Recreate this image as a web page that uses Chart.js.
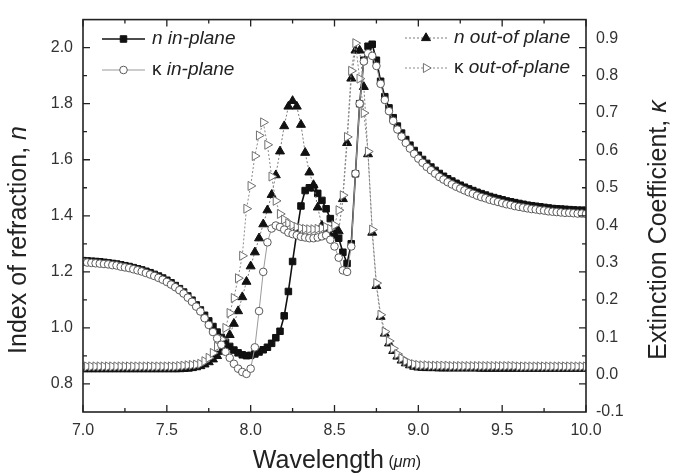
<!DOCTYPE html>
<html>
<head>
<meta charset="utf-8">
<script src="https://cdn.jsdelivr.net/npm/chart.js@4.4.0/dist/chart.umd.min.js"></script>
<style>
html, body { margin: 0; padding: 0; background: #fff; }
</style>
</head>
<body>
<canvas id="chart" width="673" height="476"></canvas>
<script>
var FONT = "'Liberation Sans', Arial, Helvetica, sans-serif";

// wavelength grid, um
var WAVELENGTH = [
    7.000, 7.025, 7.050, 7.075, 7.100, 7.125, 7.150, 7.175, 7.200, 7.225,
    7.250, 7.275, 7.300, 7.325, 7.350, 7.375, 7.400, 7.425, 7.450, 7.475,
    7.500, 7.525, 7.550, 7.575, 7.600, 7.625, 7.650, 7.675, 7.700, 7.725,
    7.750, 7.775, 7.800, 7.825, 7.850, 7.875, 7.900, 7.925, 7.950, 7.975,
    8.000, 8.025, 8.050, 8.075, 8.100, 8.125, 8.150, 8.175, 8.200, 8.225,
    8.250, 8.275, 8.300, 8.325, 8.350, 8.375, 8.400, 8.425, 8.450, 8.475,
    8.500, 8.525, 8.550, 8.575, 8.600, 8.625, 8.650, 8.675, 8.700, 8.725,
    8.750, 8.775, 8.800, 8.825, 8.850, 8.875, 8.900, 8.925, 8.950, 8.975,
    9.000, 9.025, 9.050, 9.075, 9.100, 9.125, 9.150, 9.175, 9.200, 9.225,
    9.250, 9.275, 9.300, 9.325, 9.350, 9.375, 9.400, 9.425, 9.450, 9.475,
    9.500, 9.525, 9.550, 9.575, 9.600, 9.625, 9.650, 9.675, 9.700, 9.725,
    9.750, 9.775, 9.800, 9.825, 9.850, 9.875, 9.900, 9.925, 9.950, 9.975,
    10.000
];

// n in-plane (left axis)
var N_IN_PLANE = [
    1.240, 1.239, 1.238, 1.237, 1.236, 1.234, 1.232, 1.230, 1.228, 1.225,
    1.222, 1.219, 1.215, 1.211, 1.207, 1.202, 1.197, 1.191, 1.185, 1.178,
    1.170, 1.161, 1.151, 1.140, 1.128, 1.114, 1.099, 1.082, 1.064, 1.045,
    1.025, 1.005, 0.985, 0.966, 0.949, 0.934, 0.921, 0.911, 0.904, 0.901,
    0.902, 0.907, 0.914, 0.922, 0.931, 0.945, 0.965, 0.988, 1.043, 1.130,
    1.237, 1.340, 1.435, 1.490, 1.500, 1.500, 1.480, 1.455, 1.425, 1.390,
    1.355, 1.320, 1.270, 1.230, 1.300, 1.550, 1.800, 1.955, 2.005, 2.012,
    1.955, 1.880, 1.825, 1.785, 1.750, 1.720, 1.695, 1.672, 1.652, 1.633,
    1.616, 1.601, 1.587, 1.574, 1.562, 1.551, 1.541, 1.532, 1.524, 1.516,
    1.509, 1.502, 1.496, 1.490, 1.484, 1.479, 1.474, 1.469, 1.465, 1.461,
    1.457, 1.453, 1.450, 1.447, 1.444, 1.441, 1.438, 1.436, 1.434, 1.432,
    1.430, 1.428, 1.426, 1.425, 1.424, 1.423, 1.422, 1.421, 1.420, 1.420,
    1.419
];

// kappa in-plane (right axis)
var K_IN_PLANE = [
    0.301, 0.300, 0.299, 0.298, 0.297, 0.296, 0.295, 0.293, 0.292, 0.289,
    0.287, 0.285, 0.282, 0.279, 0.276, 0.272, 0.268, 0.264, 0.259, 0.254,
    0.248, 0.241, 0.234, 0.226, 0.217, 0.206, 0.195, 0.182, 0.169, 0.151,
    0.133, 0.114, 0.097, 0.080, 0.061, 0.045, 0.029, 0.016, 0.007, 0.002,
    0.016, 0.073, 0.170, 0.275, 0.354, 0.391, 0.399, 0.395, 0.388, 0.380,
    0.376, 0.373, 0.369, 0.367, 0.365, 0.365, 0.367, 0.370, 0.373, 0.361,
    0.343, 0.313, 0.279, 0.275, 0.343, 0.538, 0.725, 0.838, 0.860, 0.853,
    0.826, 0.778, 0.735, 0.705, 0.679, 0.656, 0.637, 0.620, 0.605, 0.591,
    0.578, 0.567, 0.556, 0.547, 0.538, 0.529, 0.522, 0.515, 0.509, 0.503,
    0.498, 0.493, 0.488, 0.484, 0.479, 0.475, 0.472, 0.468, 0.465, 0.462,
    0.459, 0.456, 0.454, 0.451, 0.449, 0.447, 0.445, 0.443, 0.442, 0.440,
    0.439, 0.437, 0.436, 0.435, 0.434, 0.433, 0.433, 0.432, 0.431, 0.431,
    0.430
];

// n out-of-plane (left axis)
var N_OUT_PLANE = [
    0.853, 0.853, 0.853, 0.853, 0.853, 0.853, 0.853, 0.853, 0.853, 0.853,
    0.853, 0.853, 0.853, 0.853, 0.853, 0.853, 0.853, 0.853, 0.853, 0.853,
    0.853, 0.853, 0.853, 0.853, 0.854, 0.855, 0.857, 0.860, 0.864, 0.870,
    0.878, 0.888, 0.900, 0.915, 0.940, 0.975, 1.015, 1.060, 1.110, 1.165,
    1.220, 1.270, 1.320, 1.370, 1.420, 1.475, 1.545, 1.630, 1.720, 1.790,
    1.810, 1.790, 1.725, 1.625, 1.555, 1.510, 1.430, 1.365, 1.340, 1.330,
    1.330, 1.345, 1.460, 1.660, 1.890, 1.990, 1.990, 1.860, 1.620, 1.340,
    1.150, 1.040, 0.980, 0.945, 0.918, 0.898, 0.884, 0.874, 0.867, 0.862,
    0.859, 0.858, 0.857, 0.857, 0.857, 0.856, 0.856, 0.856, 0.856, 0.856,
    0.856, 0.856, 0.856, 0.856, 0.856, 0.855, 0.855, 0.855, 0.855, 0.855,
    0.855, 0.855, 0.855, 0.855, 0.855, 0.855, 0.855, 0.855, 0.855, 0.855,
    0.855, 0.855, 0.855, 0.855, 0.855, 0.855, 0.855, 0.855, 0.855, 0.855,
    0.855
];

// kappa out-of-plane (right axis)
var K_OUT_PLANE = [
    0.022, 0.022, 0.022, 0.022, 0.022, 0.022, 0.022, 0.022, 0.022, 0.022,
    0.022, 0.022, 0.022, 0.022, 0.022, 0.022, 0.022, 0.022, 0.022, 0.022,
    0.022, 0.022, 0.022, 0.023, 0.024, 0.025, 0.026, 0.027, 0.029, 0.036,
    0.045, 0.058, 0.075, 0.095, 0.125, 0.165, 0.205, 0.258, 0.318, 0.444,
    0.505, 0.585, 0.640, 0.675, 0.615, 0.530, 0.465, 0.430, 0.415, 0.405,
    0.400, 0.395, 0.392, 0.390, 0.389, 0.389, 0.390, 0.392, 0.395, 0.390,
    0.400, 0.440, 0.480, 0.636, 0.813, 0.887, 0.792, 0.700, 0.597, 0.388,
    0.245, 0.160, 0.115, 0.090, 0.070, 0.055, 0.044, 0.036, 0.031, 0.028,
    0.026, 0.025, 0.025, 0.024, 0.024, 0.024, 0.024, 0.024, 0.023, 0.023,
    0.023, 0.023, 0.023, 0.023, 0.023, 0.023, 0.023, 0.023, 0.023, 0.023,
    0.023, 0.023, 0.023, 0.023, 0.022, 0.022, 0.022, 0.022, 0.022, 0.022,
    0.022, 0.022, 0.022, 0.022, 0.022, 0.022, 0.022, 0.022, 0.022, 0.022,
    0.022
];

// ticks
var X_TICKS = [7.0, 7.5, 8.0, 8.5, 9.0, 9.5, 10.0];
var X_TICK_LABELS = ['7.0', '7.5', '8.0', '8.5', '9.0', '9.5', '10.0'];
var X_MINOR = [7.25, 7.75, 8.25, 8.75, 9.25, 9.75];
var N_TICKS = [0.8, 1.0, 1.2, 1.4, 1.6, 1.8, 2.0];
var N_TICK_LABELS = ['0.8', '1.0', '1.2', '1.4', '1.6', '1.8', '2.0'];
var N_MINOR = [0.9, 1.1, 1.3, 1.5, 1.7, 1.9];
var K_TICKS = [-0.1, 0.0, 0.1, 0.2, 0.3, 0.4, 0.5, 0.6, 0.7, 0.8, 0.9];
var K_TICK_LABELS = ['-0.1', '0.0', '0.1', '0.2', '0.3', '0.4', '0.5', '0.6', '0.7', '0.8', '0.9'];

function toPoints(ys) {
    var pts = [];
    for (var i = 0; i < WAVELENGTH.length; i++) {
        pts.push({x: WAVELENGTH[i], y: ys[i]});
    }
    return pts;
}

// first dataset is drawn on top
var kIn = {
    label: 'κ in-plane', data: toPoints(K_IN_PLANE), yAxisID: 'y1',
    borderColor: '#9a9a9a', borderWidth: 1,
    pointStyle: 'circle', pointRadius: 3.8, pointBorderWidth: 1,
    pointBackgroundColor: '#ffffff', pointBorderColor: '#5a5a5a'
};
var kOut = {
    label: 'κ out-of-plane', data: toPoints(K_OUT_PLANE), yAxisID: 'y1',
    borderColor: '#8a8a8a', borderWidth: 1, borderDash: [2, 2],
    pointStyle: 'triangle', pointRotation: 90, pointRadius: 5.2, pointBorderWidth: 1,
    pointBackgroundColor: '#ffffff', pointBorderColor: '#707070'
};
var nOut = {
    label: 'n out-of plane', data: toPoints(N_OUT_PLANE), yAxisID: 'y',
    borderColor: '#7a7a7a', borderWidth: 1, borderDash: [2, 2],
    pointStyle: 'triangle', pointRadius: 5.2, pointBorderWidth: 1,
    pointBackgroundColor: '#111111', pointBorderColor: '#111111'
};
var nIn = {
    label: 'n in-plane', data: toPoints(N_IN_PLANE), yAxisID: 'y',
    borderColor: '#111111', borderWidth: 1.6,
    pointStyle: 'rect', pointRadius: 4.6, pointBorderWidth: 1,
    pointBackgroundColor: '#111111', pointBorderColor: '#111111'
};

function drawParts(ctx, parts, cx, cy) {
    var total = 0;
    parts.forEach(function(p) { ctx.font = p.font; p.w = ctx.measureText(p.text).width; total += p.w; });
    var x = cx - total / 2;
    ctx.textAlign = 'left';
    ctx.textBaseline = 'middle';
    parts.forEach(function(p) { ctx.font = p.font; ctx.fillText(p.text, x, cy + (p.dy || 0)); x += p.w; });
}

function legendEntry(ctx, ds, x1, x2, y, parts) {
    ctx.save();
    ctx.strokeStyle = ds.borderColor;
    ctx.lineWidth = ds.borderWidth;
    ctx.setLineDash(ds.borderDash || []);
    ctx.beginPath();
    ctx.moveTo(x1, y);
    ctx.lineTo(x2, y);
    ctx.stroke();
    ctx.setLineDash([]);
    ctx.fillStyle = ds.pointBackgroundColor;
    ctx.strokeStyle = ds.pointBorderColor;
    ctx.lineWidth = ds.pointBorderWidth;
    Chart.helpers.drawPoint(ctx, {
        pointStyle: ds.pointStyle, radius: ds.pointRadius,
        rotation: ds.pointRotation || 0, borderWidth: ds.pointBorderWidth
    }, (x1 + x2) / 2, y);
    ctx.fillStyle = '#222';
    var x = x2 + 7;
    ctx.textAlign = 'left';
    ctx.textBaseline = 'middle';
    parts.forEach(function(p) { ctx.font = p.font; ctx.fillText(p.text, x, y); x += ctx.measureText(p.text).width; });
    ctx.restore();
}

var decorations = {
    id: 'decorations',
    afterDraw: function(chart) {
        var ctx = chart.ctx, a = chart.chartArea;
        var sx = chart.scales.x, sy = chart.scales.y;
        ctx.save();

        // inward ticks
        ctx.strokeStyle = '#222';
        ctx.lineWidth = 1.3;
        ctx.beginPath();
        function tx(v, len) {
            var p = sx.getPixelForValue(v);
            ctx.moveTo(p, a.bottom); ctx.lineTo(p, a.bottom - len);
            ctx.moveTo(p, a.top); ctx.lineTo(p, a.top + len);
        }
        function ty(v, len) {
            var p = sy.getPixelForValue(v);
            ctx.moveTo(a.left, p); ctx.lineTo(a.left + len, p);
            ctx.moveTo(a.right, p); ctx.lineTo(a.right - len, p);
        }
        X_TICKS.forEach(function(v) { tx(v, 7); });
        X_MINOR.forEach(function(v) { tx(v, 4); });
        N_TICKS.forEach(function(v) { ty(v, 7); });
        N_MINOR.forEach(function(v) { ty(v, 4); });
        ctx.stroke();

        // frame
        ctx.lineWidth = 1.6;
        ctx.strokeRect(a.left, a.top, a.right - a.left, a.bottom - a.top);

        // axis titles
        ctx.fillStyle = '#222';
        drawParts(ctx, [
            {text: 'Wavelength', font: '25px ' + FONT},
            {text: ' (', font: '16px ' + FONT, dy: 2},
            {text: 'μm', font: 'italic 16px ' + FONT, dy: 2},
            {text: ')', font: '16px ' + FONT, dy: 2}
        ], 337, 461);

        ctx.save();
        ctx.translate(19, 240);
        ctx.rotate(-Math.PI / 2);
        drawParts(ctx, [
            {text: 'Index of refraction, ', font: '25px ' + FONT},
            {text: 'n', font: 'italic 25px ' + FONT}
        ], 0, 0);
        ctx.restore();

        ctx.save();
        ctx.translate(659, 230);
        ctx.rotate(-Math.PI / 2);
        drawParts(ctx, [
            {text: 'Extinction Coefficient, ', font: '25px ' + FONT},
            {text: 'κ', font: 'italic 25px ' + FONT}
        ], 0, 0);
        ctx.restore();

        // legend
        var it = 'italic 19px ' + FONT, up = '19px ' + FONT;
        legendEntry(ctx, nIn, 102, 145, 39, [{text: 'n in-plane', font: it}]);
        legendEntry(ctx, kIn, 102, 145, 70, [{text: 'κ ', font: up}, {text: 'in-plane', font: it}]);
        legendEntry(ctx, nOut, 405, 447, 38, [{text: 'n out-of plane', font: it}]);
        legendEntry(ctx, kOut, 405, 447, 68, [{text: 'κ ', font: up}, {text: 'out-of-plane', font: it}]);

        ctx.restore();
    }
};

var tickFont = {family: FONT, size: 16};

var chart = new Chart(document.getElementById('chart'), {
    type: 'line',
    data: {datasets: [kIn, kOut, nOut, nIn]},
    options: {
        responsive: false,
        animation: false,
        clip: 0,
        layout: {padding: {top: 9, left: 0, right: 0, bottom: 0}},
        plugins: {legend: {display: false}, tooltip: {enabled: false}},
        scales: {
            x: {
                type: 'linear', min: 7, max: 10, position: 'bottom',
                grid: {display: false, drawTicks: false}, border: {display: false},
                ticks: {
                    font: tickFont, color: '#333', padding: 9, autoSkip: false, maxRotation: 0,
                    callback: function(v, i) { return X_TICK_LABELS[i]; }
                },
                afterBuildTicks: function(s) { s.ticks = X_TICKS.map(function(v) { return {value: v}; }); },
                afterFit: function(s) { s.height = 64; }
            },
            y: {
                type: 'linear', min: 0.7, max: 2.1, position: 'left',
                grid: {display: false, drawTicks: false}, border: {display: false},
                ticks: {
                    font: tickFont, color: '#333', padding: 10, autoSkip: false,
                    callback: function(v, i) { return N_TICK_LABELS[i]; }
                },
                afterBuildTicks: function(s) { s.ticks = N_TICKS.map(function(v) { return {value: v}; }); },
                afterFit: function(s) { s.width = 83; }
            },
            y1: {
                type: 'linear', min: -0.1, max: 0.95, position: 'right',
                grid: {display: false, drawTicks: false}, border: {display: false},
                ticks: {
                    font: tickFont, color: '#333', padding: 10, autoSkip: false,
                    callback: function(v, i) { return K_TICK_LABELS[i]; }
                },
                afterBuildTicks: function(s) { s.ticks = K_TICKS.map(function(v) { return {value: v}; }); },
                afterFit: function(s) { s.width = 87; }
            }
        }
    },
    plugins: [decorations]
});
</script>
</body>
</html>
